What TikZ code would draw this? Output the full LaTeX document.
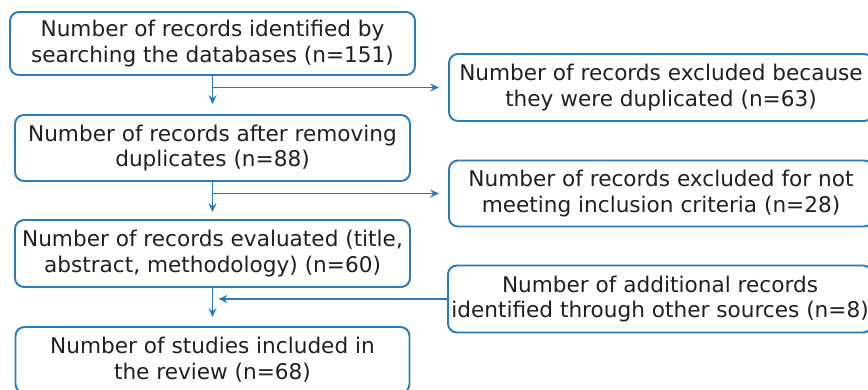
\documentclass[tikz,border=0pt]{standalone}
\usepackage{fontspec}
\setmainfont{DejaVu Sans}
\usetikzlibrary{arrows.meta}
\definecolor{flowblue}{HTML}{2B7BBA}
\definecolor{flowtext}{HTML}{231F20}

\begin{document}
\begin{tikzpicture}[
box/.style={draw=flowblue,line width=1.1pt,rounded corners=0.18cm,align=center,
  text=flowtext,inner sep=0pt,font=\fontsize{12.3}{14.6}\selectfont},
link/.style={draw=flowblue,line width=1.1pt,-{Stealth[length=5pt,width=4.5pt]}}]
\useasboundingbox (0,0) rectangle (17.36,-7.78);

% main column
\node[box,minimum width=8.1cm,minimum height=1.26cm](b1) at (4.25,-0.87) {Number of records identified by\\searching the databases (n=151)};
\node[box,minimum width=7.9cm,minimum height=1.32cm](b2) at (4.25,-2.96) {Number of records after removing\\duplicates (n=88)};
\node[box,minimum width=7.9cm,minimum height=1.34cm](b3) at (4.25,-5.07) {Number of records evaluated (title,\\abstract, methodology) (n=60)};
\node[box,minimum width=7.88cm,minimum height=1.32cm](b4) at (4.25,-7.2) {Number of studies included in\\the review (n=68)};

% side column
\node[box,minimum width=8.48cm,minimum height=1.34cm](bA) at (13.22,-1.75) {Number of records excluded because\\they were duplicated (n=63)};
\node[box,minimum width=8.48cm,minimum height=1.32cm](bB) at (13.22,-3.87) {Number of records excluded for not\\meeting inclusion criteria (n=28)};
\node[box,minimum width=8.48cm,minimum height=1.34cm](bC) at (13.2,-5.98) {Number of additional records\\identified through other sources (n=8)};

\draw[link,shorten >=0.2cm] (b1) -- (b2);
\draw[link,shorten >=0.14cm] (b2) -- (b3);
\draw[link,shorten >=0.18cm] (b3) -- (b4);
\draw[link,shorten >=0.18cm] (b1.south |- bA.west) -- (bA.west);
\draw[link,shorten >=0.18cm] (b2.south |- bB.west) -- (bB.west);
\draw[link,shorten >=0.12cm] (bC.west) -- (b3.south |- bC.west);

\end{tikzpicture}
\end{document}
